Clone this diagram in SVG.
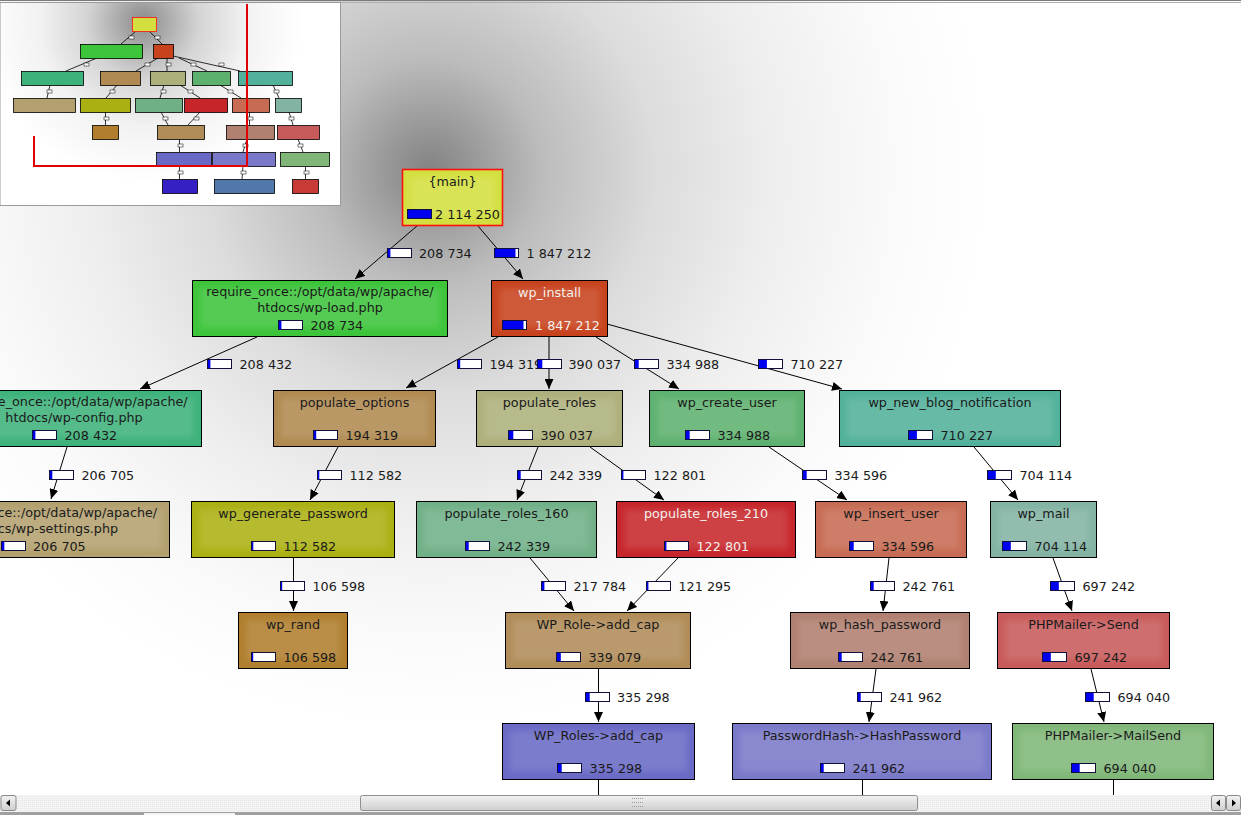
<svg xmlns="http://www.w3.org/2000/svg" width="1241" height="815" viewBox="0 0 1241 815">
<style>
.box{stroke:#000;stroke-width:1}
.t{font-family:"DejaVu Sans","Liberation Sans",sans-serif;font-size:12.75px;fill:#1a1a1a}
.c{text-anchor:middle}
.lt{fill:#f4f0ec}
.bar{fill:#fff;stroke:#10103a;stroke-width:1}
.bf{fill:#0000f0}
.glow{fill:#fff;fill-opacity:0.12;filter:url(#blur)}
.edge{stroke:#000;stroke-width:1;fill:none;marker-end:url(#arr)}
.stub{stroke:#000;stroke-width:1;fill:none}
.mbox{stroke:#000;stroke-width:0.8}
.medge{stroke:#000;stroke-width:0.8;fill:none}
.mbar{fill:#fff;stroke:#000;stroke-width:0.5}
</style>
<defs>
<radialGradient id="spot" gradientUnits="userSpaceOnUse" cx="430" cy="170" r="620">
<stop offset="0" stop-color="#838383"/>
<stop offset="0.06" stop-color="#959595"/>
<stop offset="0.18" stop-color="#bcbcbc"/>
<stop offset="0.36" stop-color="#dcdcdc"/>
<stop offset="0.55" stop-color="#eeeeee"/>
<stop offset="0.75" stop-color="#fafafa"/>
<stop offset="0.9" stop-color="#ffffff"/>
</radialGradient>
<radialGradient id="mspot" gradientUnits="userSpaceOnUse" cx="143" cy="22" r="160">
<stop offset="0" stop-color="#8a8a8a"/>
<stop offset="0.12" stop-color="#a4a4a4"/>
<stop offset="0.35" stop-color="#d4d4d4"/>
<stop offset="0.65" stop-color="#f2f2f2"/>
<stop offset="1" stop-color="#ffffff"/>
</radialGradient>
<linearGradient id="thumb" x1="0" y1="0" x2="0" y2="1">
<stop offset="0" stop-color="#f2f2f2"/>
<stop offset="1" stop-color="#cfcfd2"/>
</linearGradient>
<pattern id="hatch" width="2" height="2" patternUnits="userSpaceOnUse">
<rect width="2" height="2" fill="#f4f4f4"/>
<rect width="1" height="1" fill="#e6e6e6"/>
</pattern>
<filter id="blur" x="-10%" y="-20%" width="120%" height="140%"><feGaussianBlur stdDeviation="3"/></filter>
<marker id="arr" viewBox="0 0 10 9" refX="10" refY="4.5" markerWidth="10" markerHeight="9" markerUnits="userSpaceOnUse" orient="auto">
<path d="M0,0 L10,4.5 L0,9 z" fill="#000"/>
</marker>
</defs>

<rect x="0" y="0" width="1241" height="815" fill="url(#spot)"/>
<line x1="0" y1="0.5" x2="1241" y2="0.5" stroke="#7a7a7a"/>
<line x1="0" y1="2.5" x2="1241" y2="2.5" stroke="#b0b0b0"/>

<g id="connectors">
<line class="edge" x1="417" y1="226" x2="355" y2="279"/>
<line class="edge" x1="478" y1="226" x2="523" y2="279"/>
<line class="edge" x1="257" y1="337" x2="140" y2="389"/>
<line class="edge" x1="498" y1="337" x2="406" y2="388"/>
<line class="edge" x1="549" y1="337" x2="549" y2="389"/>
<line class="edge" x1="596" y1="337" x2="679" y2="389"/>
<line class="edge" x1="607" y1="324" x2="842" y2="389"/>
<line class="edge" x1="67" y1="447" x2="51" y2="499"/>
<line class="edge" x1="338" y1="447" x2="310" y2="500"/>
<line class="edge" x1="538" y1="447" x2="517" y2="500"/>
<line class="edge" x1="590" y1="447" x2="664" y2="500"/>
<line class="edge" x1="769" y1="447" x2="847" y2="500"/>
<line class="edge" x1="974" y1="447" x2="1018" y2="500"/>
<line class="edge" x1="293.5" y1="558" x2="293.5" y2="611"/>
<line class="edge" x1="530" y1="558" x2="574" y2="611"/>
<line class="edge" x1="678" y1="558" x2="627" y2="611"/>
<line class="edge" x1="889" y1="558" x2="883" y2="611"/>
<line class="edge" x1="1053" y1="558" x2="1072" y2="611"/>
<line class="edge" x1="598.5" y1="669" x2="598.5" y2="722"/>
<line class="edge" x1="876" y1="669" x2="869" y2="722"/>
<line class="edge" x1="1091" y1="669" x2="1104" y2="722"/>
<line class="stub" x1="598.5" y1="780" x2="598.5" y2="796"/>
<line class="stub" x1="862.5" y1="780" x2="862.5" y2="796"/>
<line class="stub" x1="1113.5" y1="780" x2="1113.5" y2="796"/>

<rect class="bar" x="387.5" y="248.5" width="24" height="9"/><rect class="bf" x="388" y="249" width="2.4" height="8"/><text class="t" x="419" y="258">208 734</text>
<rect class="bar" x="494.5" y="248.5" width="24" height="9"/><rect class="bf" x="495" y="249" width="20.5" height="8"/><text class="t" x="526.5" y="258">1 847 212</text>
<rect class="bar" x="207.5" y="359.5" width="24" height="9"/><rect class="bf" x="208" y="360" width="2.4" height="8"/><text class="t" x="239.5" y="369">208 432</text>
<rect class="bar" x="457.5" y="359.5" width="24" height="9"/><rect class="bf" x="458" y="360" width="2.2" height="8"/><text class="t" x="489.5" y="369">194 319</text>
<rect class="bar" x="537.5" y="359.5" width="24" height="9"/><rect class="bf" x="538" y="360" width="4.3" height="8"/><text class="t" x="568.5" y="369">390 037</text>
<rect class="bar" x="634.5" y="359.5" width="24" height="9"/><rect class="bf" x="635" y="360" width="3.7" height="8"/><text class="t" x="666.5" y="369">334 988</text>
<rect class="bar" x="758.5" y="359.5" width="24" height="9"/><rect class="bf" x="759" y="360" width="7.9" height="8"/><text class="t" x="790.5" y="369">710 227</text>
<rect class="bar" x="49.5" y="470.5" width="24" height="9"/><rect class="bf" x="50" y="471" width="2.3" height="8"/><text class="t" x="81.5" y="480">206 705</text>
<rect class="bar" x="317.5" y="470.5" width="24" height="9"/><rect class="bf" x="318" y="471" width="1.3" height="8"/><text class="t" x="349.5" y="480">112 582</text>
<rect class="bar" x="517.5" y="470.5" width="24" height="9"/><rect class="bf" x="518" y="471" width="2.7" height="8"/><text class="t" x="549.5" y="480">242 339</text>
<rect class="bar" x="621.5" y="470.5" width="24" height="9"/><rect class="bf" x="622" y="471" width="1.4" height="8"/><text class="t" x="653.5" y="480">122 801</text>
<rect class="bar" x="802.5" y="470.5" width="24" height="9"/><rect class="bf" x="803" y="471" width="3.7" height="8"/><text class="t" x="834.5" y="480">334 596</text>
<rect class="bar" x="987.5" y="470.5" width="24" height="9"/><rect class="bf" x="988" y="471" width="7.8" height="8"/><text class="t" x="1019.5" y="480">704 114</text>
<rect class="bar" x="280.5" y="581.5" width="24" height="9"/><rect class="bf" x="281" y="582" width="1.2" height="8"/><text class="t" x="312.5" y="591">106 598</text>
<rect class="bar" x="541.5" y="581.5" width="24" height="9"/><rect class="bf" x="542" y="582" width="2.4" height="8"/><text class="t" x="573.5" y="591">217 784</text>
<rect class="bar" x="646.5" y="581.5" width="24" height="9"/><rect class="bf" x="647" y="582" width="1.4" height="8"/><text class="t" x="678.5" y="591">121 295</text>
<rect class="bar" x="870.5" y="581.5" width="24" height="9"/><rect class="bf" x="871" y="582" width="2.7" height="8"/><text class="t" x="902.5" y="591">242 761</text>
<rect class="bar" x="1050.5" y="581.5" width="24" height="9"/><rect class="bf" x="1051" y="582" width="7.8" height="8"/><text class="t" x="1082.5" y="591">697 242</text>
<rect class="bar" x="585.5" y="692.5" width="24" height="9"/><rect class="bf" x="586" y="693" width="3.7" height="8"/><text class="t" x="617" y="702">335 298</text>
<rect class="bar" x="857.5" y="692.5" width="24" height="9"/><rect class="bf" x="858" y="693" width="2.7" height="8"/><text class="t" x="889.5" y="702">241 962</text>
<rect class="bar" x="1085.5" y="692.5" width="24" height="9"/><rect class="bf" x="1086" y="693" width="7.7" height="8"/><text class="t" x="1117.5" y="702">694 040</text>
</g>

<g id="n-main">
<rect x="402.5" y="169.5" width="100" height="56" fill="#d3df3f" stroke="#ff1010" stroke-width="1.6"/>
<rect class="glow" x="410" y="177" width="85" height="40"/>
<text class="t c" x="452.5" y="186">{main}</text>
<rect class="bar" x="407.5" y="209.5" width="24" height="9"/><rect class="bf" x="408" y="210" width="23" height="8"/>
<text class="t" x="435" y="219">2 114 250</text>
</g>
<g id="n-wpload">
<rect class="box" x="192.5" y="280.5" width="255" height="56" fill="#3cc43a"/>
<rect class="glow" x="200" y="288" width="240" height="40"/>
<text class="t c" x="320" y="296">require_once::/opt/data/wp/apache/</text>
<text class="t c" x="320" y="312">htdocs/wp-load.php</text>
<rect class="bar" x="278.5" y="320.5" width="24" height="9"/><rect class="bf" x="279" y="321" width="2.4" height="8"/>
<text class="t" x="310.5" y="330">208 734</text>
</g>
<g id="n-wpinstall">
<rect class="box" x="491.5" y="280.5" width="116" height="56" fill="#c7421d"/>
<rect class="glow" x="499" y="288" width="101" height="40"/>
<text class="t c lt" x="549.5" y="297">wp_install</text>
<rect class="bar" x="502.5" y="320.5" width="24" height="9"/><rect class="bf" x="503" y="321" width="20.5" height="8"/>
<text class="t lt" x="535" y="330">1 847 212</text>
</g>
<g id="n-wpconfig">
<rect class="box" x="-53.5" y="390.5" width="255" height="56" fill="#3db27a"/>
<rect class="glow" x="-46" y="398" width="240" height="40"/>
<text class="t c" x="74" y="406">require_once::/opt/data/wp/apache/</text>
<text class="t c" x="74" y="422">htdocs/wp-config.php</text>
<rect class="bar" x="32.5" y="430.5" width="24" height="9"/><rect class="bf" x="33" y="431" width="2.4" height="8"/>
<text class="t" x="64.5" y="440">208 432</text>
</g>
<g id="n-popopt">
<rect class="box" x="273.5" y="390.5" width="162" height="56" fill="#b08a50"/>
<rect class="glow" x="281" y="398" width="147" height="40"/>
<text class="t c" x="354.5" y="407">populate_options</text>
<rect class="bar" x="313.5" y="430.5" width="24" height="9"/><rect class="bf" x="314" y="431" width="2.2" height="8"/>
<text class="t" x="345.5" y="440">194 319</text>
</g>
<g id="n-poproles">
<rect class="box" x="476.5" y="390.5" width="146" height="56" fill="#adb07b"/>
<rect class="glow" x="484" y="398" width="131" height="40"/>
<text class="t c" x="549.5" y="407">populate_roles</text>
<rect class="bar" x="508.5" y="430.5" width="24" height="9"/><rect class="bf" x="509" y="431" width="4.3" height="8"/>
<text class="t" x="540.5" y="440">390 037</text>
</g>
<g id="n-wpcreate">
<rect class="box" x="649.5" y="390.5" width="155" height="56" fill="#5db16e"/>
<rect class="glow" x="657" y="398" width="140" height="40"/>
<text class="t c" x="727" y="407">wp_create_user</text>
<rect class="bar" x="685.5" y="430.5" width="24" height="9"/><rect class="bf" x="686" y="431" width="3.7" height="8"/>
<text class="t" x="717.5" y="440">334 988</text>
</g>
<g id="n-newblog">
<rect class="box" x="839.5" y="390.5" width="221" height="56" fill="#52b19a"/>
<rect class="glow" x="847" y="398" width="206" height="40"/>
<text class="t c" x="950" y="407">wp_new_blog_notification</text>
<rect class="bar" x="908.5" y="430.5" width="24" height="9"/><rect class="bf" x="909" y="431" width="7.9" height="8"/>
<text class="t" x="940.5" y="440">710 227</text>
</g>
<g id="n-wpsettings">
<rect class="box" x="-83.5" y="501.5" width="253" height="56" fill="#b3a06e"/>
<rect class="glow" x="-76" y="509" width="238" height="40"/>
<text class="t c" x="43.5" y="517">require_once::/opt/data/wp/apache/</text>
<text class="t c" x="43.5" y="533">htdocs/wp-settings.php</text>
<rect class="bar" x="1.5" y="541.5" width="24" height="9"/><rect class="bf" x="2" y="542" width="2.3" height="8"/>
<text class="t" x="33" y="551">206 705</text>
</g>
<g id="n-wpgen">
<rect class="box" x="191.5" y="501.5" width="203" height="56" fill="#abb012"/>
<rect class="glow" x="199" y="509" width="188" height="40"/>
<text class="t c" x="293" y="518">wp_generate_password</text>
<rect class="bar" x="251.5" y="541.5" width="24" height="9"/><rect class="bf" x="252" y="542" width="1.3" height="8"/>
<text class="t" x="283.5" y="551">112 582</text>
</g>
<g id="n-pr160">
<rect class="box" x="416.5" y="501.5" width="180" height="56" fill="#70b087"/>
<rect class="glow" x="424" y="509" width="165" height="40"/>
<text class="t c" x="506.5" y="518">populate_roles_160</text>
<rect class="bar" x="465.5" y="541.5" width="24" height="9"/><rect class="bf" x="466" y="542" width="2.7" height="8"/>
<text class="t" x="497.5" y="551">242 339</text>
</g>
<g id="n-pr210">
<rect class="box" x="616.5" y="501.5" width="179" height="56" fill="#c6252a"/>
<rect class="glow" x="624" y="509" width="164" height="40"/>
<text class="t c lt" x="706" y="518">populate_roles_210</text>
<rect class="bar" x="664.5" y="541.5" width="24" height="9"/><rect class="bf" x="665" y="542" width="1.4" height="8"/>
<text class="t lt" x="696.5" y="551">122 801</text>
</g>
<g id="n-wpinsert">
<rect class="box" x="815.5" y="501.5" width="151" height="56" fill="#c76b53"/>
<rect class="glow" x="823" y="509" width="136" height="40"/>
<text class="t c" x="891" y="518">wp_insert_user</text>
<rect class="bar" x="849.5" y="541.5" width="24" height="9"/><rect class="bf" x="850" y="542" width="3.7" height="8"/>
<text class="t" x="881.5" y="551">334 596</text>
</g>
<g id="n-wpmail">
<rect class="box" x="990.5" y="501.5" width="106" height="56" fill="#82b3a3"/>
<rect class="glow" x="998" y="509" width="91" height="40"/>
<text class="t c" x="1043.5" y="518">wp_mail</text>
<rect class="bar" x="1002.5" y="541.5" width="24" height="9"/><rect class="bf" x="1003" y="542" width="7.8" height="8"/>
<text class="t" x="1034.5" y="551">704 114</text>
</g>
<g id="n-wprand">
<rect class="box" x="238.5" y="612.5" width="109" height="56" fill="#b07e2e"/>
<rect class="glow" x="246" y="620" width="94" height="40"/>
<text class="t c" x="293" y="629">wp_rand</text>
<rect class="bar" x="251.5" y="652.5" width="24" height="9"/><rect class="bf" x="252" y="653" width="1.2" height="8"/>
<text class="t" x="283.5" y="662">106 598</text>
</g>
<g id="n-roleaddcap">
<rect class="box" x="505.5" y="612.5" width="185" height="56" fill="#b08c58"/>
<rect class="glow" x="513" y="620" width="170" height="40"/>
<text class="t c" x="598" y="629">WP_Role-&gt;add_cap</text>
<rect class="bar" x="556.5" y="652.5" width="24" height="9"/><rect class="bf" x="557" y="653" width="3.8" height="8"/>
<text class="t" x="588.5" y="662">339 079</text>
</g>
<g id="n-wphash">
<rect class="box" x="790.5" y="612.5" width="179" height="56" fill="#b08070"/>
<rect class="glow" x="798" y="620" width="164" height="40"/>
<text class="t c" x="880" y="629">wp_hash_password</text>
<rect class="bar" x="838.5" y="652.5" width="24" height="9"/><rect class="bf" x="839" y="653" width="2.7" height="8"/>
<text class="t" x="870.5" y="662">242 761</text>
</g>
<g id="n-pmsend">
<rect class="box" x="997.5" y="612.5" width="172" height="56" fill="#c75a5a"/>
<rect class="glow" x="1005" y="620" width="157" height="40"/>
<text class="t c" x="1083.5" y="629">PHPMailer-&gt;Send</text>
<rect class="bar" x="1042.5" y="652.5" width="24" height="9"/><rect class="bf" x="1043" y="653" width="7.8" height="8"/>
<text class="t" x="1074.5" y="662">697 242</text>
</g>
<g id="n-rolesaddcap">
<rect class="box" x="502.5" y="723.5" width="192" height="56" fill="#6a6ac6"/>
<rect class="glow" x="510" y="731" width="177" height="40"/>
<text class="t c" x="598.5" y="740">WP_Roles-&gt;add_cap</text>
<rect class="bar" x="557.5" y="763.5" width="24" height="9"/><rect class="bf" x="558" y="764" width="3.7" height="8"/>
<text class="t" x="589.5" y="773">335 298</text>
</g>
<g id="n-hashpw">
<rect class="box" x="732.5" y="723.5" width="259" height="56" fill="#7a79c9"/>
<rect class="glow" x="740" y="731" width="244" height="40"/>
<text class="t c" x="862" y="740">PasswordHash-&gt;HashPassword</text>
<rect class="bar" x="820.5" y="763.5" width="24" height="9"/><rect class="bf" x="821" y="764" width="2.7" height="8"/>
<text class="t" x="852.5" y="773">241 962</text>
</g>
<g id="n-mailsend">
<rect class="box" x="1012.5" y="723.5" width="201" height="56" fill="#80b779"/>
<rect class="glow" x="1020" y="731" width="186" height="40"/>
<text class="t c" x="1113" y="740">PHPMailer-&gt;MailSend</text>
<rect class="bar" x="1071.5" y="763.5" width="24" height="9"/><rect class="bf" x="1072" y="764" width="7.7" height="8"/>
<text class="t" x="1103.5" y="773">694 040</text>
</g>

<g id="minimap">
<rect x="0" y="2.5" width="340.5" height="203" fill="url(#mspot)" stroke="#9a9a9a"/>
<g>
<line class="medge" x1="135" y1="32" x2="121" y2="44"/>
<line class="medge" x1="150" y1="32" x2="162" y2="44"/>
<line class="medge" x1="97" y1="58" x2="66" y2="71"/>
<line class="medge" x1="158" y1="58" x2="136" y2="71"/>
<line class="medge" x1="167" y1="58" x2="167" y2="71"/>
<line class="medge" x1="179" y1="58" x2="207" y2="71"/>
<line class="medge" x1="173" y1="56" x2="240" y2="71"/>
<line class="medge" x1="50" y1="85" x2="47" y2="98"/>
<line class="medge" x1="117" y1="85" x2="106" y2="98"/>
<line class="medge" x1="164" y1="85" x2="160" y2="98"/>
<line class="medge" x1="180" y1="85" x2="200" y2="98"/>
<line class="medge" x1="220" y1="85" x2="241" y2="98"/>
<line class="medge" x1="273" y1="85" x2="279" y2="98"/>
<line class="medge" x1="105.5" y1="112" x2="105.5" y2="125"/>
<line class="medge" x1="161" y1="112" x2="168" y2="125"/>
<line class="medge" x1="200" y1="112" x2="188" y2="125"/>
<line class="medge" x1="249.5" y1="112" x2="249.5" y2="125"/>
<line class="medge" x1="289" y1="112" x2="293" y2="125"/>
<line class="medge" x1="179.5" y1="139" x2="179.5" y2="152"/>
<line class="medge" x1="247" y1="139" x2="243" y2="152"/>
<line class="medge" x1="298" y1="139" x2="303" y2="152"/>
<line class="medge" x1="179.5" y1="166" x2="179.5" y2="179"/>
<line class="medge" x1="243" y1="166" x2="242" y2="179"/>
<line class="medge" x1="305.5" y1="166" x2="305.5" y2="179"/>
<rect class="mbar" x="129" y="36" width="5" height="3"/>
<rect class="mbar" x="155" y="36" width="5" height="3"/>
<rect class="mbar" x="84" y="63" width="5" height="3"/>
<rect class="mbar" x="145" y="63" width="5" height="3"/>
<rect class="mbar" x="166" y="63" width="5" height="3"/>
<rect class="mbar" x="191" y="63" width="5" height="3"/>
<rect class="mbar" x="219" y="63" width="5" height="3"/>
<rect class="mbar" x="47" y="90" width="5" height="3"/>
<rect class="mbar" x="110" y="90" width="5" height="3"/>
<rect class="mbar" x="161" y="90" width="5" height="3"/>
<rect class="mbar" x="188" y="90" width="5" height="3"/>
<rect class="mbar" x="228" y="90" width="5" height="3"/>
<rect class="mbar" x="274" y="90" width="5" height="3"/>
<rect class="mbar" x="104" y="117" width="5" height="3"/>
<rect class="mbar" x="163" y="117" width="5" height="3"/>
<rect class="mbar" x="194" y="117" width="5" height="3"/>
<rect class="mbar" x="248" y="117" width="5" height="3"/>
<rect class="mbar" x="289" y="117" width="5" height="3"/>
<rect class="mbar" x="178" y="144" width="5" height="3"/>
<rect class="mbar" x="243" y="144" width="5" height="3"/>
<rect class="mbar" x="298" y="144" width="5" height="3"/>
<rect class="mbar" x="178" y="171" width="5" height="3"/>
<rect class="mbar" x="241" y="171" width="5" height="3"/>
<rect class="mbar" x="304" y="171" width="5" height="3"/>
</g>
<rect x="132.5" y="17.5" width="24" height="14" fill="#d3df3f" stroke="#ff1010" stroke-width="0.8"/>
<rect class="mbox" x="80.5" y="44.5" width="62" height="14" fill="#3cc43a"/>
<rect class="mbox" x="153.5" y="44.5" width="20" height="14" fill="#c7421d"/>
<rect class="mbox" x="21.5" y="71.5" width="62" height="14" fill="#3db27a"/>
<rect class="mbox" x="100.5" y="71.5" width="40" height="14" fill="#b08a50"/>
<rect class="mbox" x="150.5" y="71.5" width="35" height="14" fill="#adb07b"/>
<rect class="mbox" x="192.5" y="71.5" width="38" height="14" fill="#5db16e"/>
<rect class="mbox" x="238.5" y="71.5" width="54" height="14" fill="#52b19a"/>
<rect class="mbox" x="13.5" y="98.5" width="62" height="14" fill="#b3a06e"/>
<rect class="mbox" x="80.5" y="98.5" width="50" height="14" fill="#abb012"/>
<rect class="mbox" x="135.5" y="98.5" width="47" height="14" fill="#70b087"/>
<rect class="mbox" x="184.5" y="98.5" width="43" height="14" fill="#c6252a"/>
<rect class="mbox" x="232.5" y="98.5" width="37" height="14" fill="#c76b53"/>
<rect class="mbox" x="275.5" y="98.5" width="26" height="14" fill="#82b3a3"/>
<rect class="mbox" x="92.5" y="125.5" width="26" height="14" fill="#b07e2e"/>
<rect class="mbox" x="157.5" y="125.5" width="47" height="14" fill="#b08c58"/>
<rect class="mbox" x="226.5" y="125.5" width="48" height="14" fill="#b08070"/>
<rect class="mbox" x="277.5" y="125.5" width="42" height="14" fill="#c75a5a"/>
<rect class="mbox" x="156.5" y="152.5" width="55" height="14" fill="#6a6ac6"/>
<rect class="mbox" x="212.5" y="152.5" width="63" height="14" fill="#7a79c9"/>
<rect class="mbox" x="280.5" y="152.5" width="49" height="14" fill="#80b779"/>
<rect class="mbox" x="162.5" y="179.5" width="35" height="14" fill="#3420c4"/>
<rect class="mbox" x="214.5" y="179.5" width="60" height="14" fill="#5078a8"/>
<rect class="mbox" x="292.5" y="179.5" width="26" height="14" fill="#c83a36"/>
<polyline points="34,136 34,166 247,166 247,4" fill="none" stroke="#e00000" stroke-width="2"/>
</g>

<g id="scrollbar">
<rect x="0" y="795" width="1241" height="17" fill="url(#hatch)"/>
<rect x="1" y="795.5" width="15" height="15" rx="2" fill="url(#thumb)" stroke="#8a8a8a"/>
<path d="M6,803 L10,799.5 L10,806.5 z" fill="#000"/>
<rect x="360.5" y="795.5" width="557" height="15" rx="2" fill="url(#thumb)" stroke="#8f8f8f"/>
<g fill="#9a9a9a">
<rect x="632" y="798" width="1" height="1"/><rect x="634" y="798" width="1" height="1"/><rect x="636" y="798" width="1" height="1"/><rect x="638" y="798" width="1" height="1"/><rect x="640" y="798" width="1" height="1"/><rect x="642" y="798" width="1" height="1"/>
<rect x="632" y="802" width="1" height="1"/><rect x="634" y="802" width="1" height="1"/><rect x="636" y="802" width="1" height="1"/><rect x="638" y="802" width="1" height="1"/><rect x="640" y="802" width="1" height="1"/><rect x="642" y="802" width="1" height="1"/>
<rect x="632" y="806" width="1" height="1"/><rect x="634" y="806" width="1" height="1"/><rect x="636" y="806" width="1" height="1"/><rect x="638" y="806" width="1" height="1"/><rect x="640" y="806" width="1" height="1"/><rect x="642" y="806" width="1" height="1"/>
</g>
<rect x="1211.5" y="795.5" width="14" height="15" rx="2" fill="url(#thumb)" stroke="#8a8a8a"/>
<path d="M1216,803 L1220,799.5 L1220,806.5 z" fill="#000"/>
<rect x="1226.5" y="795.5" width="14" height="15" rx="2" fill="url(#thumb)" stroke="#8a8a8a"/>
<path d="M1236,803 L1232,799.5 L1232,806.5 z" fill="#000"/>
<rect x="0" y="812" width="1241" height="3" fill="#a0a0a0"/>
<rect x="144" y="813" width="91" height="2" fill="#f4f4f4"/>
</g>
</svg>
